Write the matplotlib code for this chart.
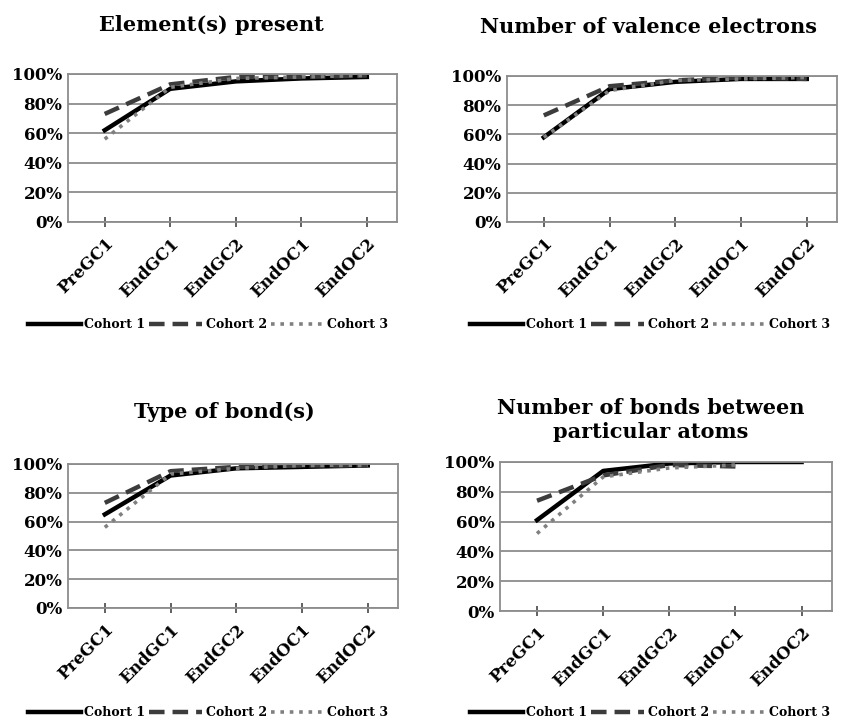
import numpy as np
import matplotlib
matplotlib.use("Agg")
import matplotlib.pyplot as plt

plt.rcParams["font.family"] = ["DejaVu Serif"]
plt.rcParams["font.weight"] = "bold"

stages = ["PreGC1", "EndGC1", "EndGC2", "EndOC1", "EndOC2"]
cohorts = ["Cohort 1", "Cohort 2", "Cohort 3"]

# percent of students
elements_c1 = [62, 90, 95, 97, 98]
elements_c2 = [73, 93, 98, 98, 99]
elements_c3 = [56, 91, 97, 98, 99]

valence_c1 = [58, 91, 96, 98, 98]
valence_c2 = [73, 93, 97, 99, 98]
valence_c3 = [58, 90, 97, 98, 99]

bondtype_c1 = [65, 92, 97, 98, 99]
bondtype_c2 = [73, 95, 98, 99, 99]
bondtype_c3 = [56, 93, 97, 99, 99]

nbonds_c1 = [61, 94, 99, 100, 100]
nbonds_c2 = [74, 91, 98, 97, np.nan]
nbonds_c3 = [52, 90, 96, 98, np.nan]

panels = [
    ("Element(s) present", [elements_c1, elements_c2, elements_c3]),
    ("Number of valence electrons", [valence_c1, valence_c2, valence_c3]),
    ("Type of bond(s)", [bondtype_c1, bondtype_c2, bondtype_c3]),
    ("Number of bonds between\nparticular atoms", [nbonds_c1, nbonds_c2, nbonds_c3]),
]

# layout in pixels: axes box (left, right, top, bottom), title centre, legend centre
W, H = 844, 722
boxes = [
    (68, 397, 74, 222),
    (507, 837, 76, 222),
    (68, 398, 464, 608),
    (500, 832, 462, 611),
]
title_xy = [(211, 25), (648, 27), (224, 412), (651, 420)]
legend_xy = [(208, 325), (650, 325), (208, 713), (650, 713)]

styles = [
    dict(color="black", linewidth=3.2, linestyle="-"),
    dict(color="#3c3c3c", linewidth=3.2, linestyle=(0, (3.5, 1.8))),
    dict(color="#808080", linewidth=2.6, linestyle=(0, (1, 1.6))),
]
gridcol = "#8c8c8c"

fig = plt.figure(figsize=(W / 100, H / 100), dpi=100)
x = np.arange(len(stages))

for i, (title, series) in enumerate(panels):
    l, r, t, b = boxes[i]
    ax = fig.add_axes([l / W, 1 - b / H, (r - l) / W, (b - t) / H])
    for vals, lab, st in zip(series, cohorts, styles):
        ax.plot(x, np.array(vals, dtype=float) / 100, label=lab, **st)
    ax.set_ylim(0, 1)
    ax.set_xlim(-0.56, 4.46)
    ax.set_yticks(np.arange(0, 1.01, 0.2))
    ax.set_yticklabels([f"{int(v)}%" for v in np.arange(0, 101, 20)], fontsize=12)
    ax.set_xticks(x)
    ax.set_xticklabels(stages, rotation=45, ha="right", rotation_mode="anchor", fontsize=12)
    ax.grid(axis="y", color=gridcol, linewidth=1.3)
    ax.set_axisbelow(True)
    for sp in ax.spines.values():
        sp.set_color(gridcol)
        sp.set_linewidth(1.3)
    ax.tick_params(axis="y", length=0, pad=4)
    ax.tick_params(axis="x", direction="inout", length=7, width=1.3, color="#555555", pad=6)

    tx, ty = title_xy[i]
    fig.text(tx / W, 1 - ty / H, title, ha="center", va="center",
             fontsize=15, fontweight="bold", linespacing=1.3)

    lx, ly = legend_xy[i]
    ax.legend(
        loc="center",
        bbox_to_anchor=(lx / W, 1 - ly / H),
        bbox_transform=fig.transFigure,
        ncol=3,
        frameon=False,
        fontsize=9,
        handlelength=4.2,
        handletextpad=0.3,
        columnspacing=0.3,
    )

fig.savefig("out.png", dpi=100, facecolor="w")
